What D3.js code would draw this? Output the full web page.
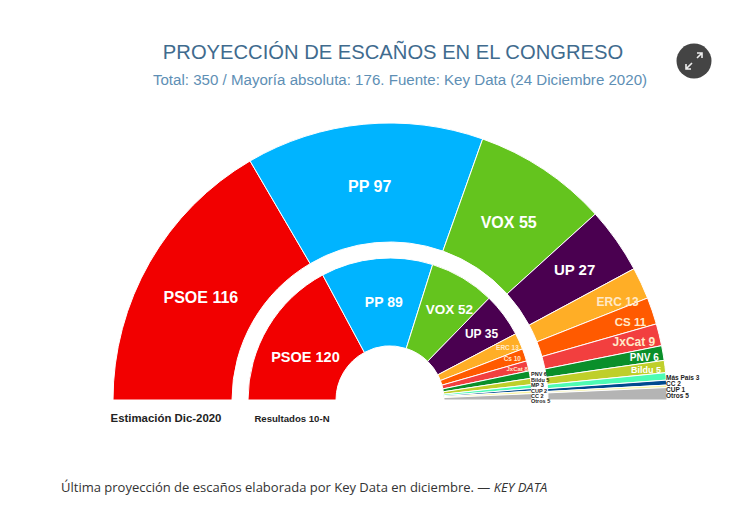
<!DOCTYPE html>
<html>
<head>
<meta charset="utf-8">
<script src="https://cdnjs.cloudflare.com/ajax/libs/d3/7.8.5/d3.min.js"></script>
<style>
    html, body { margin: 0; padding: 0; background: #fff; }
    svg { display: block; font-family: "Liberation Sans", Arial, sans-serif; }
</style>
</head>
<body>
<svg id="chart" width="750" height="515"></svg>
<script>
// data

const dicParties = ["PSOE", "PP", "VOX", "UP", "ERC", "CS", "JxCat", "PNV", "Bildu", "Más País", "CC", "CUP", "Otros"]
const dicSeats = [116, 97, 55, 27, 13, 11, 9, 6, 5, 3, 2, 1, 5]
const dicColors = ["#f20000", "#00b4ff", "#64c41e", "#4a0050", "#ffae26", "#ff5a00", "#f23f3f", "#0a8f2a", "#bfcf2a", "#4dfcb4", "#004a8f", "#f7f3a0", "#b4b4b4"]

const novParties = ["PSOE", "PP", "VOX", "UP", "ERC", "Cs", "JxCat", "PNV", "Bildu", "MP", "CUP", "CC", "Otros"]
const novSeats = [120, 89, 52, 35, 13, 10, 8, 6, 5, 3, 2, 2, 5]
const novColors = ["#f20000", "#00b4ff", "#64c41e", "#4a0050", "#ffae26", "#ff5a00", "#f23f3f", "#0a8f2a", "#bfcf2a", "#4dfcb4", "#004a8f", "#f7f3a0", "#b4b4b4"]

// layout

const cx = 390, cy = 400
const svg = d3.select("#chart")

const pie = d3.pie()
    .sort(null)
    .startAngle(-Math.PI / 2)
    .endAngle(Math.PI / 2)

// where a label sits along the wedge, one radius and nudge per party
const dicLabelR = [218, 215, 214, 226, 251, 254, 251, 258, 258]
const dicLabelDx = [0, 0, 0, 0, 0, 0, 0, 0, 0]
const dicLabelDy = [6, 0, 0, 0, 8, 4, 1, 1, 1]
const dicLabelSize = [16, 16, 16, 15, 12, 11.5, 12, 10, 9]

const novLabelR = [95, 98, 108, 113, 129, 129, 131]
const novLabelDx = [-3, 3, 4, 1, 0, 0, 0]
const novLabelDy = [6, 0, 2, 1, 1, 0, 0]
const novLabelSize = [14.5, 14, 13.5, 12, 6.5, 6.5, 6]

function drawRing(seats, colors, inner, outer) {
    const arc = d3.arc().innerRadius(inner).outerRadius(outer)
    const slices = pie(seats)

    svg.append("g")
        .attr("transform", `translate(${cx},${cy})`)
        .selectAll("path")
        .data(slices)
        .join("path")
        .attr("d", arc)
        .attr("fill", (d, i) => colors[i])
        .attr("stroke", "#fff")
        .attr("stroke-width", 1)
    return slices
}

function polar(d, r) {
    const a = (d.startAngle + d.endAngle) / 2
    return [cx + r * Math.sin(a), cy - r * Math.cos(a)]
}

function drawInsideLabels(slices, parties, seats, radii, dxs, dys, sizes) {
    svg.append("g")
        .selectAll("text")
        .data(slices.slice(0, radii.length))
        .join("text")
        .attr("x", (d, i) => polar(d, radii[i])[0] + dxs[i])
        .attr("y", (d, i) => polar(d, radii[i])[1] + dys[i])
        .attr("dy", "0.35em")
        .attr("text-anchor", "middle")
        .attr("fill", (d, i) => i >= 4 && i <= 6 ? "#ffe9c8" : "#fff")
        .attr("font-weight", "bold")
        .attr("font-size", (d, i) => sizes[i])
        .text((d, i) => parties[i] + " " + seats[i])
}

// small parties get a stacked black list next to the ring
function drawSideLabels(parties, seats, from, x, ys, size) {
    svg.append("g")
        .selectAll("text")
        .data(parties.slice(from))
        .join("text")
        .attr("x", x)
        .attr("y", (d, i) => ys[i])
        .attr("dy", "0.35em")
        .attr("fill", "#222")
        .attr("font-weight", "bold")
        .attr("font-size", size)
        .text((d, i) => d + " " + seats[from + i])
}

const dicSlices = drawRing(dicSeats, dicColors, 158, 277)
const novSlices = drawRing(novSeats, novColors, 54, 142)

drawInsideLabels(dicSlices, dicParties, dicSeats, dicLabelR, dicLabelDx, dicLabelDy, dicLabelSize)
drawInsideLabels(novSlices, novParties, novSeats, novLabelR, novLabelDx, novLabelDy, novLabelSize)

drawSideLabels(dicParties, dicSeats, 9, 666, [378, 384, 390, 396], 6.5)
drawSideLabels(novParties, novSeats, 7, 531, [374, 380, 385, 391, 396, 401], 5.5)

// titles

svg.append("text")
    .attr("x", 393)
    .attr("y", 59)
    .attr("text-anchor", "middle")
    .attr("fill", "#3f6b8e")
    .attr("font-size", 20.2)
    .text("PROYECCIÓN DE ESCAÑOS EN EL CONGRESO")

svg.append("text")
    .attr("x", 400)
    .attr("y", 85)
    .attr("text-anchor", "middle")
    .attr("fill", "#5e8fb5")
    .attr("font-size", 15.1)
    .text("Total: 350 / Mayoría absoluta: 176. Fuente: Key Data (24 Diciembre 2020)")

svg.append("text")
    .attr("x", 166)
    .attr("y", 422)
    .attr("text-anchor", "middle")
    .attr("fill", "#222")
    .attr("font-weight", "bold")
    .attr("font-size", 11.4)
    .text("Estimación Dic-2020")

svg.append("text")
    .attr("x", 292)
    .attr("y", 421.5)
    .attr("text-anchor", "middle")
    .attr("fill", "#222")
    .attr("font-weight", "bold")
    .attr("font-size", 9.6)
    .text("Resultados 10-N")

// caption

const caption = svg.append("text")
    .attr("x", 61)
    .attr("y", 492)
    .attr("fill", "#333")
    .attr("font-family", "'Open Sans', sans-serif")
    .attr("font-size", 13)

caption.append("tspan").text("Última proyección de escaños elaborada por Key Data en diciembre. — ")
caption.append("tspan").attr("font-style", "italic").text("KEY DATA")

// expand button

const btn = svg.append("g").attr("transform", "translate(694,61)")

btn.append("circle")
    .attr("r", 17.5)
    .attr("fill", "#444")

btn.append("path")
    .attr("d", "M-8,8L-2,2M3,-3L8,-8M3,-8H8V-3M-8,3V8H-3")
    .attr("fill", "none")
    .attr("stroke", "#eee")
    .attr("stroke-width", 1.6)
</script>
</body>
</html>
